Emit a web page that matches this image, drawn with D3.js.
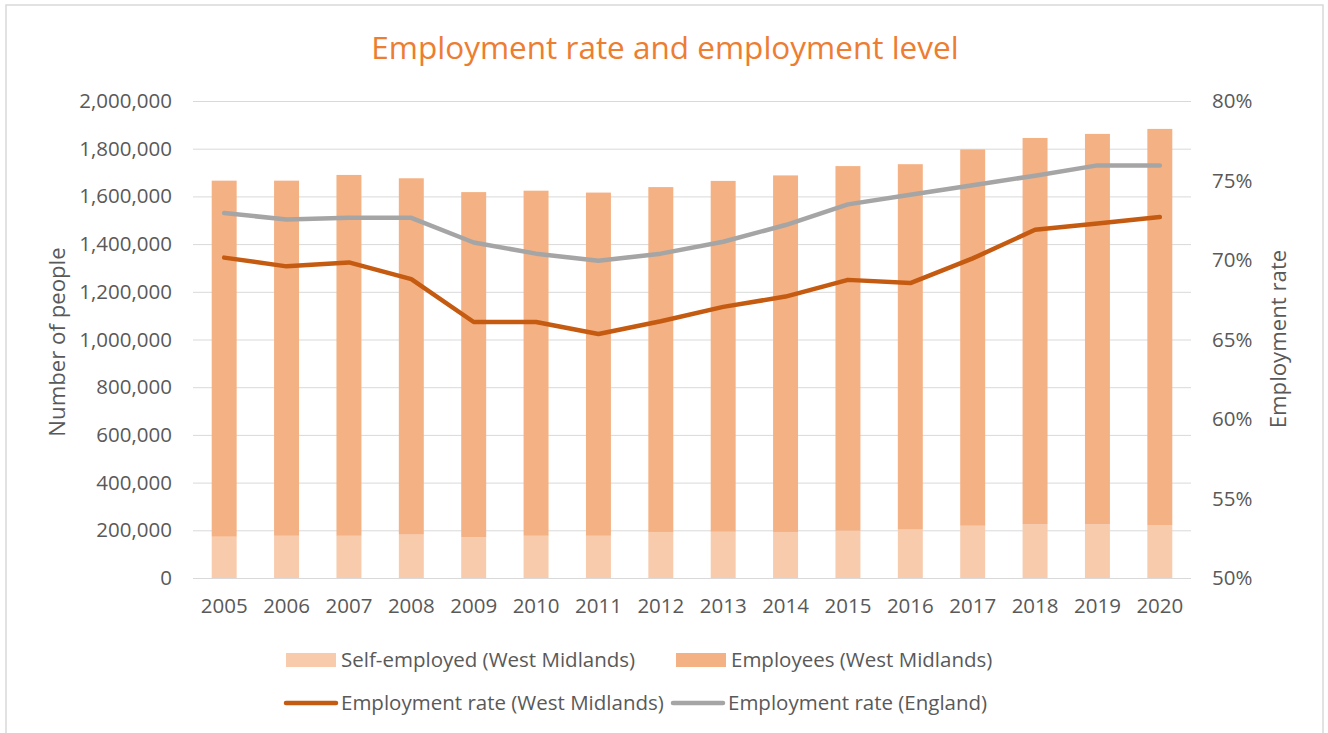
<!DOCTYPE html>
<html>
<head>
<meta charset="utf-8">
<script src="https://cdn.jsdelivr.net/npm/d3@7"></script>
<style>
  html, body { margin: 0; padding: 0; background: #ffffff; }
  svg { display: block; }
  text { font-family: "Open Sans", "Noto Sans", sans-serif; fill: #595959; }
</style>
</head>
<body>
<svg id="chart" width="1328" height="733"></svg>
<script>
// Employment in the West Midlands, 2005-2020
const years = ["2005","2006","2007","2008","2009","2010","2011","2012",
               "2013","2014","2015","2016","2017","2018","2019","2020"];
const selfEmployed = [173000,177000,177000,182000,171000,177000,177000,193000,
                      194000,193000,198000,203000,219000,226000,226000,222000];
const employees = [1493000,1489000,1513000,1494000,1447000,1447000,1439000,1446000,
                   1471000,1495000,1529000,1532000,1578000,1619000,1636000,1661000];
const rateWestMidlands = [70.15,69.6,69.85,68.8,66.1,66.1,65.35,66.15,
                          67.05,67.7,68.75,68.55,70.1,71.9,72.3,72.7];
const rateEngland = [72.95,72.55,72.65,72.65,71.1,70.4,69.95,70.4,
                     71.15,72.2,73.5,74.1,74.7,75.3,75.95,75.95];
const leftTicks = [0,200000,400000,600000,800000,1000000,1200000,1400000,1600000,1800000,2000000];
const rightTicks = [50,55,60,65,70,75,80];

const colors = {
  self: "#F8CBAD",
  emp: "#F4B183",
  wm: "#C55A11",
  eng: "#A5A5A5",
  grid: "#D9D9D9",
  title: "#ED7D31"
};

const svg = d3.select("#chart");
const plot = { left: 193, right: 1191, top: 101, bottom: 578 };
const tickFont = 20.5;

// outer frame
svg.append("rect")
  .attr("x", 6).attr("y", 5)
  .attr("width", 1317).attr("height", 740)
  .attr("fill", "#ffffff")
  .attr("stroke", "#D9D9D9").attr("stroke-width", 1.5);

const x = d3.scaleBand().domain(years)
  .range([plot.left, plot.right])
  .paddingInner(0.6).paddingOuter(0.3);
const y = d3.scaleLinear().domain([0, 2000000]).range([plot.bottom, plot.top]);
const yR = d3.scaleLinear().domain([50, 80]).range([plot.bottom, plot.top]);

// gridlines
svg.append("g").selectAll("line").data(leftTicks).join("line")
  .attr("x1", plot.left).attr("x2", plot.right)
  .attr("y1", d => y(d) + 0.5).attr("y2", d => y(d) + 0.5)
  .attr("stroke", colors.grid).attr("stroke-width", 1);

// left axis labels
const fmt = d3.format(",");
const leftAxis = d3.axisLeft(y).tickValues(leftTicks).tickFormat(d => fmt(d)).tickSize(0).tickPadding(0);
const gL = svg.append("g").attr("transform", `translate(172,0)`).call(leftAxis);
gL.select(".domain").remove();
gL.selectAll("text").attr("font-size", tickFont).attr("fill", "#595959")
  .attr("font-family", "'Open Sans', sans-serif");

// right axis labels
const rightAxis = d3.axisRight(yR).tickValues(rightTicks).tickFormat(d => d + "%").tickSize(0).tickPadding(0);
const gR = svg.append("g").attr("transform", `translate(1212,0)`).call(rightAxis);
gR.select(".domain").remove();
gR.selectAll("text").attr("font-size", tickFont).attr("fill", "#595959")
  .attr("font-family", "'Open Sans', sans-serif");

// x axis labels
const bottomAxis = d3.axisBottom(x).tickSize(0).tickPadding(0);
const gB = svg.append("g").attr("transform", `translate(0,598)`).call(bottomAxis);
gB.select(".domain").remove();
gB.selectAll("text").attr("font-size", tickFont).attr("fill", "#595959")
  .attr("font-family", "'Open Sans', sans-serif");

// stacked bars
const stackData = years.map((yr, i) => ({ year: yr, self: selfEmployed[i], emp: employees[i] }));
const stacked = d3.stack().keys(["self", "emp"])(stackData);
svg.append("g").selectAll("g").data(stacked).join("g")
  .attr("fill", d => colors[d.key])
  .selectAll("rect").data(d => d).join("rect")
  .attr("x", d => x(d.data.year))
  .attr("width", x.bandwidth())
  .attr("y", d => y(d[1]))
  .attr("height", d => y(d[0]) - y(d[1]));

// rate lines
const line = d3.line()
  .x((d, i) => x(years[i]) + x.bandwidth() / 2)
  .y(d => yR(d));
svg.append("path").datum(rateEngland)
  .attr("d", line).attr("fill", "none")
  .attr("stroke", colors.eng).attr("stroke-width", 4.5)
  .attr("stroke-linejoin", "round").attr("stroke-linecap", "round");
svg.append("path").datum(rateWestMidlands)
  .attr("d", line).attr("fill", "none")
  .attr("stroke", colors.wm).attr("stroke-width", 4.5)
  .attr("stroke-linejoin", "round").attr("stroke-linecap", "round");

// title
svg.append("text")
  .attr("x", 665).attr("y", 59)
  .attr("text-anchor", "middle")
  .attr("font-size", 31.5)
  .style("fill", colors.title)
  .text("Employment rate and employment level");

// axis titles
svg.append("text")
  .attr("transform", "translate(65,342) rotate(-90)")
  .attr("text-anchor", "middle")
  .attr("font-size", 22.2)
  .text("Number of people");
svg.append("text")
  .attr("transform", "translate(1286,339) rotate(-90)")
  .attr("text-anchor", "middle")
  .attr("font-size", 22.2)
  .text("Employment rate");

// legend
const legend = svg.append("g");
const legendItems = [
  { label: "Self-employed (West Midlands)", type: "rect", color: colors.self, x: 286, y: 660 },
  { label: "Employees (West Midlands)", type: "rect", color: colors.emp, x: 676, y: 660 },
  { label: "Employment rate (West Midlands)", type: "line", color: colors.wm, x: 286, y: 703 },
  { label: "Employment rate (England)", type: "line", color: colors.eng, x: 673, y: 703 }
];
legendItems.forEach(it => {
  if (it.type === "rect") {
    legend.append("rect").attr("x", it.x).attr("y", it.y - 7)
      .attr("width", 50).attr("height", 14).attr("fill", it.color);
  } else {
    legend.append("line").attr("x1", it.x).attr("x2", it.x + 50)
      .attr("y1", it.y).attr("y2", it.y)
      .attr("stroke", it.color).attr("stroke-width", 4.5).attr("stroke-linecap", "round");
  }
  legend.append("text").attr("x", it.x + 55).attr("y", it.y)
    .attr("dy", "0.35em").attr("font-size", tickFont).text(it.label);
});
</script>
</body>
</html>
